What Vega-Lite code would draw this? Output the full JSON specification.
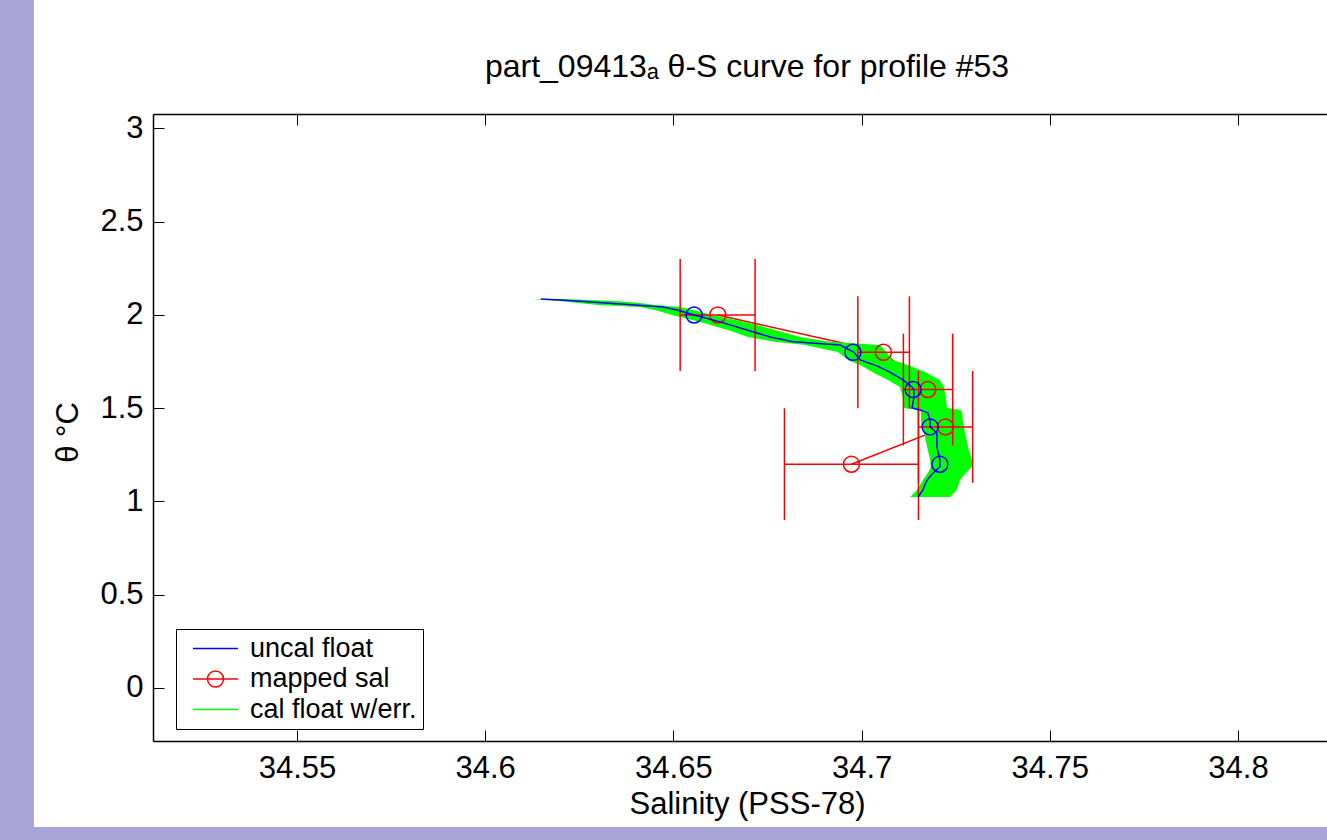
{
  "$schema": "https://vega.github.io/schema/vega-lite/v6.json",
  "autosize": {"type": "none"},
  "padding": {"left": 153, "top": 114, "right": 0, "bottom": 99},
  "width": 1174,
  "height": 627,
  "background": "#a8a4d8",
  "title": {
    "text": "part_09413ₐ θ-S curve for profile #53",
    "font": "Liberation Sans, DejaVu Sans",
    "fontSize": 32,
    "fontWeight": "normal",
    "color": "black",
    "anchor": "middle",
    "dx": 7,
    "offset": -84
  },
  "datasets": {
    "blue": [
      {"i": 1, "sal": 34.6148, "theta": 2.086},
      {"i": 2, "sal": 34.6244, "theta": 2.075},
      {"i": 3, "sal": 34.6472, "theta": 2.043},
      {"i": 4, "sal": 34.6510, "theta": 2.027},
      {"i": 5, "sal": 34.6555, "theta": 2.000},
      {"i": 6, "sal": 34.6624, "theta": 1.963},
      {"i": 7, "sal": 34.6757, "theta": 1.882},
      {"i": 8, "sal": 34.6818, "theta": 1.857},
      {"i": 9, "sal": 34.6943, "theta": 1.839},
      {"i": 10, "sal": 34.6980, "theta": 1.800},
      {"i": 11, "sal": 34.6996, "theta": 1.759},
      {"i": 12, "sal": 34.7041, "theta": 1.727},
      {"i": 13, "sal": 34.7075, "theta": 1.694},
      {"i": 14, "sal": 34.7110, "theta": 1.652},
      {"i": 15, "sal": 34.7134, "theta": 1.614},
      {"i": 16, "sal": 34.7139, "theta": 1.598},
      {"i": 17, "sal": 34.7139, "theta": 1.555},
      {"i": 18, "sal": 34.7134, "theta": 1.501},
      {"i": 19, "sal": 34.7155, "theta": 1.491},
      {"i": 20, "sal": 34.7176, "theta": 1.475},
      {"i": 21, "sal": 34.7182, "theta": 1.437},
      {"i": 22, "sal": 34.7182, "theta": 1.400},
      {"i": 23, "sal": 34.7200, "theta": 1.367},
      {"i": 24, "sal": 34.7200, "theta": 1.292},
      {"i": 25, "sal": 34.7208, "theta": 1.223},
      {"i": 26, "sal": 34.7208, "theta": 1.185},
      {"i": 27, "sal": 34.7190, "theta": 1.153},
      {"i": 28, "sal": 34.7174, "theta": 1.115},
      {"i": 29, "sal": 34.7168, "theta": 1.089},
      {"i": 30, "sal": 34.7163, "theta": 1.062},
      {"i": 31, "sal": 34.7150, "theta": 1.024}
    ],
    "bluePts": [
      {"sal": 34.6555, "theta": 2.0},
      {"sal": 34.6977, "theta": 1.8},
      {"sal": 34.7137, "theta": 1.6},
      {"sal": 34.7182, "theta": 1.4},
      {"sal": 34.7208, "theta": 1.2}
    ],
    "band": [
      {"theta": 2.086, "lo": 34.6127, "hi": 34.6199},
      {"theta": 2.080, "lo": 34.6159, "hi": 34.6278},
      {"theta": 2.075, "lo": 34.6199, "hi": 34.6345},
      {"theta": 2.064, "lo": 34.6247, "hi": 34.6411},
      {"theta": 2.054, "lo": 34.6300, "hi": 34.6451},
      {"theta": 2.043, "lo": 34.6411, "hi": 34.6518},
      {"theta": 2.027, "lo": 34.6451, "hi": 34.6552},
      {"theta": 2.000, "lo": 34.6496, "hi": 34.6603},
      {"theta": 1.963, "lo": 34.6571, "hi": 34.6690},
      {"theta": 1.920, "lo": 34.6645, "hi": 34.6770},
      {"theta": 1.882, "lo": 34.6698, "hi": 34.6836},
      {"theta": 1.857, "lo": 34.6770, "hi": 34.6916},
      {"theta": 1.839, "lo": 34.6850, "hi": 34.7049},
      {"theta": 1.802, "lo": 34.6937, "hi": 34.7065},
      {"theta": 1.759, "lo": 34.6964, "hi": 34.7083},
      {"theta": 1.727, "lo": 34.7001, "hi": 34.7129},
      {"theta": 1.694, "lo": 34.7028, "hi": 34.7168},
      {"theta": 1.652, "lo": 34.7070, "hi": 34.7208},
      {"theta": 1.614, "lo": 34.7102, "hi": 34.7219},
      {"theta": 1.555, "lo": 34.7110, "hi": 34.7224},
      {"theta": 1.501, "lo": 34.7110, "hi": 34.7227},
      {"theta": 1.491, "lo": 34.7155, "hi": 34.7264},
      {"theta": 1.475, "lo": 34.7158, "hi": 34.7267},
      {"theta": 1.437, "lo": 34.7158, "hi": 34.7269},
      {"theta": 1.400, "lo": 34.7160, "hi": 34.7272},
      {"theta": 1.367, "lo": 34.7166, "hi": 34.7275},
      {"theta": 1.292, "lo": 34.7174, "hi": 34.7283},
      {"theta": 1.223, "lo": 34.7182, "hi": 34.7293},
      {"theta": 1.185, "lo": 34.7184, "hi": 34.7293},
      {"theta": 1.153, "lo": 34.7176, "hi": 34.7277},
      {"theta": 1.115, "lo": 34.7163, "hi": 34.7261},
      {"theta": 1.062, "lo": 34.7147, "hi": 34.7253},
      {"theta": 1.024, "lo": 34.7129, "hi": 34.7235}
    ],
    "mapped": [
      {"i": 1, "sal": 34.6618, "lo": 34.6518, "hi": 34.6717, "theta": 2.0, "tlo": 1.7, "thi": 2.3},
      {"i": 2, "sal": 34.7058, "lo": 34.6990, "hi": 34.7127, "theta": 1.8, "tlo": 1.5, "thi": 2.1},
      {"i": 3, "sal": 34.7176, "lo": 34.7111, "hi": 34.7242, "theta": 1.6, "tlo": 1.3, "thi": 1.9},
      {"i": 4, "sal": 34.7223, "lo": 34.7151, "hi": 34.7295, "theta": 1.4, "tlo": 1.1, "thi": 1.7},
      {"i": 5, "sal": 34.6973, "lo": 34.6795, "hi": 34.7151, "theta": 1.2, "tlo": 0.9, "thi": 1.5}
    ],
    "legendRows": [
      {"series": "uncal float"},
      {"series": "mapped sal"},
      {"series": "cal float w/err."}
    ]
  },
  "resolve": {"axis": {"x": "independent", "y": "independent"}},
  "layer": [
    {
      "data": {"values": [{}]},
      "mark": {"type": "rect", "color": "white"},
      "encoding": {
        "x": {
          "datum": 34.4801, "type": "quantitative",
          "scale": {"domain": [34.511743, 34.823645], "nice": false, "zero": false},
          "axis": {
            "orient": "bottom", "zindex": 1,
            "values": [34.55, 34.6, 34.65, 34.7, 34.75, 34.8],
            "format": ".2~f",
            "title": "Salinity (PSS-78)",
            "titleX": 594, "titleY": 72,
            "titleAlign": "center", "titleBaseline": "alphabetic",
            "labelBaseline": "top",
            "labelPadding": 23
          }
        },
        "x2": {"datum": 35.2},
        "y": {
          "datum": 3.689, "type": "quantitative",
          "scale": {"domain": [-0.2842, 3.0777], "nice": false, "zero": false},
          "axis": {
            "orient": "left", "zindex": 1,
            "values": [0, 0.5, 1, 1.5, 2, 2.5, 3],
            "format": "~g",
            "title": "θ °C",
            "titleX": -85, "titleY": 318,
            "titleAlign": "center", "titleBaseline": "middle",
            "labelPadding": 21
          }
        },
        "y2": {"datum": -0.7453}
      }
    },
    {
      "data": {"name": "mapped"},
      "mark": {"type": "line", "color": "#ff0000", "strokeWidth": 1.5},
      "encoding": {
        "x": {"field": "sal", "type": "quantitative",
              "axis": {"orient": "top", "zindex": 1, "labels": false, "title": null,
                       "values": [34.55, 34.6, 34.65, 34.7, 34.75, 34.8]}},
        "y": {"field": "theta", "type": "quantitative", "axis": null},
        "order": {"field": "i"}
      }
    },
    {
      "data": {"name": "band"},
      "mark": {"type": "area", "color": "#00ff00", "opacity": 1, "orient": "horizontal"},
      "encoding": {
        "x": {"field": "lo", "type": "quantitative", "axis": null},
        "x2": {"field": "hi"},
        "y": {"field": "theta", "type": "quantitative", "axis": null}
      }
    },
    {
      "data": {"name": "mapped"},
      "mark": {"type": "rule", "color": "#ff0000", "strokeWidth": 1.5},
      "encoding": {
        "x": {"field": "lo", "type": "quantitative", "axis": null},
        "x2": {"field": "hi"},
        "y": {"field": "theta", "type": "quantitative", "axis": null}
      }
    },
    {
      "data": {"name": "mapped"},
      "mark": {"type": "rule", "color": "#ff0000", "strokeWidth": 1.5},
      "encoding": {
        "x": {"field": "lo", "type": "quantitative", "axis": null},
        "y": {"field": "tlo", "type": "quantitative", "axis": null},
        "y2": {"field": "thi"}
      }
    },
    {
      "data": {"name": "mapped"},
      "mark": {"type": "rule", "color": "#ff0000", "strokeWidth": 1.5},
      "encoding": {
        "x": {"field": "hi", "type": "quantitative", "axis": null},
        "y": {"field": "tlo", "type": "quantitative", "axis": null},
        "y2": {"field": "thi"}
      }
    },
    {
      "data": {"name": "mapped"},
      "mark": {"type": "point", "shape": "circle", "filled": false, "size": 256, "color": "#ff0000", "strokeWidth": 1.5, "opacity": 1},
      "encoding": {
        "x": {"field": "sal", "type": "quantitative", "axis": null},
        "y": {"field": "theta", "type": "quantitative", "axis": null}
      }
    },
    {
      "data": {"name": "blue"},
      "mark": {"type": "line", "color": "#0000ff", "strokeWidth": 1.5},
      "encoding": {
        "x": {"field": "sal", "type": "quantitative", "axis": null},
        "y": {"field": "theta", "type": "quantitative", "axis": null},
        "order": {"field": "i"}
      }
    },
    {
      "data": {"name": "bluePts"},
      "mark": {"type": "point", "shape": "circle", "filled": false, "size": 256, "color": "#0000ff", "strokeWidth": 1.5, "opacity": 1},
      "encoding": {
        "x": {"field": "sal", "type": "quantitative", "axis": null},
        "y": {"field": "theta", "type": "quantitative", "axis": null}
      }
    },
    {
      "data": {"name": "legendRows"},
      "mark": {"type": "point", "filled": false, "size": 400, "strokeWidth": 1.5, "clip": true, "opacity": 1},
      "encoding": {
        "x": {"datum": 30, "type": "quantitative", "axis": null},
        "y": {"datum": 0, "type": "quantitative", "axis": null},
        "color": {
          "field": "series", "type": "nominal",
          "scale": {"domain": ["uncal float", "mapped sal", "cal float w/err."],
                    "range": ["#0000ff", "#ff0000", "#00ff00"]},
          "legend": {
            "orient": "none", "legendX": 23, "legendY": 515, "title": null,
            "padding": 6, "strokeColor": "black", "fillColor": "white",
            "labelFont": "Liberation Sans", "labelFontSize": 27, "labelColor": "black", "labelLimit": 0,
            "symbolSize": 400, "symbolStrokeWidth": 1.5, "symbolOffset": 20,
            "labelOffset": 21, "rowPadding": 2.5
          }
        },
        "shape": {
          "field": "series", "type": "nominal",
          "scale": {"domain": ["uncal float", "mapped sal", "cal float w/err."],
                    "range": ["M-2.25,0H2.25", "M-2.25,0H2.25M0.8,0A0.8,0.8,0,1,1,-0.8,0A0.8,0.8,0,1,1,0.8,0", "M-2.25,0H2.25"]},
          "legend": {
            "orient": "none", "legendX": 23, "legendY": 515, "title": null,
            "padding": 6, "strokeColor": "black", "fillColor": "white",
            "labelFont": "Liberation Sans", "labelFontSize": 27, "labelColor": "black", "labelLimit": 0,
            "symbolSize": 400, "symbolStrokeWidth": 1.5, "symbolOffset": 20,
            "labelOffset": 21, "rowPadding": 2.5
          }
        }
      }
    }
  ],
  "config": {
    "view": {"stroke": null},
    "axis": {
      "domainColor": "black", "domainWidth": 1.5,
      "tickColor": "black", "tickWidth": 1, "tickSize": -11,
      "labelFont": "Liberation Sans", "labelFontSize": 31, "labelColor": "black",
      "titleFont": "Liberation Sans", "titleFontSize": 31, "titleFontWeight": "normal", "titleColor": "black",
      "grid": false, "labelFlush": false, "labelOverlap": false
    }
  }
}
